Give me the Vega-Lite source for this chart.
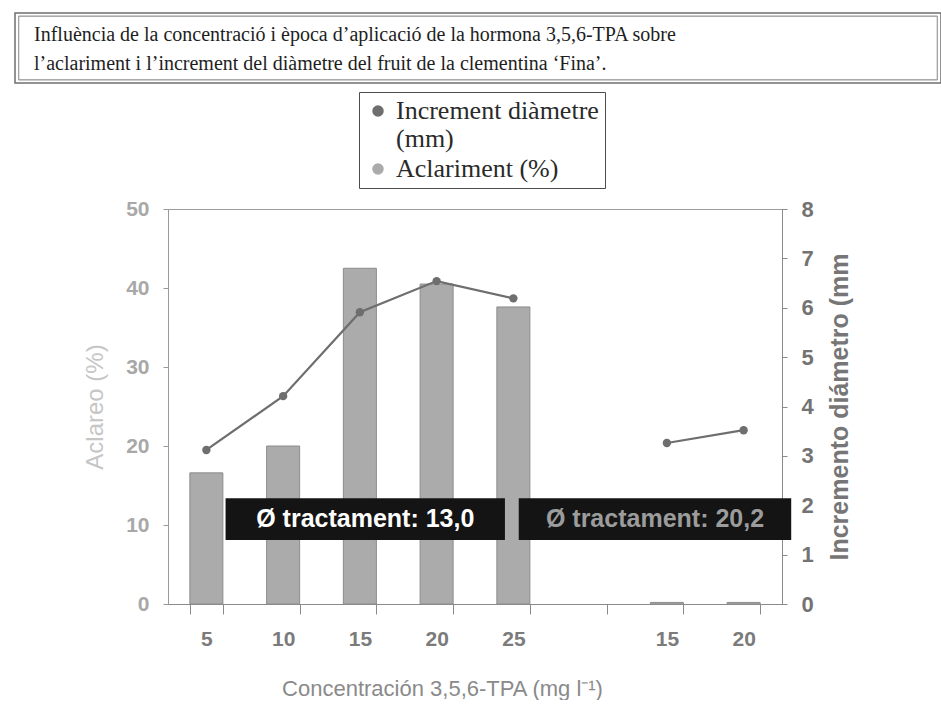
{
  "$schema": "https://vega.github.io/schema/vega-lite/v6.json",
  "padding": {"left": 14, "top": 12, "right": 0, "bottom": 0},
  "autosize": {"type": "pad"},
  "background": "white",
  "config": {"view": {"stroke": null}, "font": "Liberation Sans"},
  "bounds": "flush",
  "spacing": 126,
  "vconcat": [
    {
      "width": 926,
      "height": 70,
      "view": {"stroke": "#6f6f6f", "strokeWidth": 1.5},
      "data": {"values": [
        {"linea": 1, "texto": "Influència de la concentració i època d’aplicació de la hormona 3,5,6-TPA sobre"},
        {"linea": 2, "texto": "l’aclariment i l’increment del diàmetre del fruit de la clementina ‘Fina’."}
      ]},
      "layer": [
        {
          "mark": {"type": "rect", "fill": null, "stroke": "#a0a0a0", "strokeWidth": 1},
          "encoding": {
            "x": {"datum": 0, "type": "quantitative", "scale": {"domain": [-0.004, 1.004]}, "axis": null},
            "x2": {"datum": 1},
            "y": {"datum": 0, "type": "quantitative", "scale": {"domain": [-0.05, 1.05]}, "axis": null},
            "y2": {"datum": 1}
          }
        },
        {
          "mark": {"type": "text", "align": "left", "baseline": "alphabetic", "dx": 19, "font": "Liberation Serif", "fontSize": 20, "color": "#1e1e1e"},
          "encoding": {
            "x": {"datum": 0, "type": "quantitative", "scale": {"domain": [0, 1]}, "axis": null},
            "y": {"field": "linea", "type": "quantitative", "scale": {"domain": [0.0345, 2.448], "reverse": true}, "axis": null},
            "text": {"field": "texto"}
          }
        }
      ],
      "resolve": {"scale": {"x": "independent", "y": "independent"}}
    },
    {
      "bounds": "flush",
      "spacing": 0,
      "hconcat": [
        {
          "width": 153,
          "height": 395,
          "data": {"values": []},
          "mark": "point"
        },
        {
          "width": 614,
          "height": 395,
          "view": {"stroke": "#9c9c9c", "strokeWidth": 1},
          "layer": [
            {
              "data": {"values": [
                {"id": "I-5", "grupo": "I", "aclareo": 16.6, "diametro": 3.12},
                {"id": "I-10", "grupo": "I", "aclareo": 20.0, "diametro": 4.21},
                {"id": "I-15", "grupo": "I", "aclareo": 42.5, "diametro": 5.91},
                {"id": "I-20", "grupo": "I", "aclareo": 40.5, "diametro": 6.54},
                {"id": "I-25", "grupo": "I", "aclareo": 37.6, "diametro": 6.19},
                {"id": "II-15", "grupo": "II", "aclareo": 0.2, "diametro": 3.26},
                {"id": "II-20", "grupo": "II", "aclareo": 0.2, "diametro": 3.52}
              ]},
              "layer": [
                {
                  "mark": {"type": "bar", "stroke": "#8c8c8c", "strokeWidth": 1},
                  "encoding": {
                    "x": {
                      "field": "id", "type": "nominal", "sort": null,
                      "scale": {"domain": ["I-5", "I-10", "I-15", "I-20", "I-25", "sep", "II-15", "II-20"], "paddingInner": 0.57, "paddingOuter": 0.285},
                      "axis": {
                        "title": "Concentración 3,5,6-TPA (mg l⁻¹)",
                        "labelExpr": "indexof(datum.label, '-') >= 0 ? split(datum.label, '-')[1] : ''",
                        "labelAngle": 0,
                        "labelFontSize": 21,
                        "labelFontWeight": "bold",
                        "labelColor": "#7b7b7b",
                        "labelPadding": 14,
                        "tickBand": "extent",
                        "tickSize": 10,
                        "tickColor": "#8a8a8a",
                        "domainColor": "#8a8a8a",
                        "titleFontSize": 22,
                        "titleFontWeight": "normal",
                        "titleColor": "#8a8a8a",
                        "titleX": 274,
                        "titleY": 91,
                        "titleBaseline": "alphabetic"
                      }
                    },
                    "y": {
                      "field": "aclareo", "type": "quantitative",
                      "scale": {"domain": [0, 50]},
                      "axis": {
                        "title": "Aclareo (%)",
                        "values": [0, 10, 20, 30, 40, 50],
                        "grid": false,
                        "tickSize": 5,
                        "tickColor": "#9a9a9a",
                        "domainColor": "#9a9a9a",
                        "labelColor": "#a8a8a8",
                        "labelFontSize": 21,
                        "labelFontWeight": "bold",
                        "labelPadding": 14,
                        "titleColor": "#c6c6c6",
                        "titleFontSize": 24,
                        "titleFontWeight": "normal",
                        "titlePadding": 18
                      }
                    },
                    "color": {
                      "datum": "Aclariment (%)",
                      "type": "nominal",
                      "scale": {"domain": ["Increment diàmetre (mm)", "Aclariment (%)"], "range": ["#6e6e6e", "#ababab"]},
                      "legend": {
                        "orient": "none",
                        "legendX": 344,
                        "legendY": 79,
                        "title": null,
                        "direction": "vertical",
                        "strokeColor": "#4d4d4d",
                        "fillColor": "white",
                        "padding": 6,
                        "labelFont": "Liberation Serif",
                        "labelFontSize": 26,
                        "labelColor": "#2a2a2a",
                        "labelLimit": 400,
                        "rowPadding": 4,
                        "labelOffset": 5,
                        "labelExpr": "datum.label == 'Increment diàmetre (mm)' ? ['Increment diàmetre', '(mm)'] : datum.label",
                        "encode": {
                          "symbols": {
                            "fillOpacity": {"value": 1},
                            "strokeWidth": {"value": 0}
                          }
                        }
                      }
                    }
                  }
                },
                {
                  "mark": {"type": "line", "strokeWidth": 2.2, "point": {"filled": true, "size": 70}},
                  "encoding": {
                    "x": {"field": "id", "type": "nominal", "sort": null},
                    "y": {
                      "field": "diametro", "type": "quantitative",
                      "scale": {"domain": [0, 8]},
                      "axis": {
                        "orient": "right",
                        "title": "Incremento diámetro (mm",
                        "values": [0, 1, 2, 3, 4, 5, 6, 7, 8],
                        "grid": false,
                        "tickSize": 5,
                        "tickColor": "#8a8a8a",
                        "domainColor": "#8a8a8a",
                        "labelColor": "#737373",
                        "labelFontSize": 22,
                        "labelFontWeight": "bold",
                        "labelPadding": 14,
                        "titleColor": "#767676",
                        "titleFontSize": 25,
                        "titleFontWeight": "bold",
                        "titleAngle": 270,
                        "titleBaseline": "top",
                        "titlePadding": 14
                      }
                    },
                    "detail": {"field": "grupo"},
                    "color": {"datum": "Increment diàmetre (mm)", "type": "nominal"}
                  }
                }
              ],
              "resolve": {"scale": {"y": "independent"}}
            },
            {
              "data": {"values": [
                {"texto": "Ø tractament: 13,0", "tipo": "a", "desde": 0.75, "hasta": 4.39, "inferior": 8.1, "superior": 13.4},
                {"texto": "Ø tractament: 20,2", "tipo": "b", "desde": 4.57, "hasta": 8.12, "inferior": 8.1, "superior": 13.4}
              ]},
              "transform": [
                {"calculate": "(datum.desde + datum.hasta) / 2", "as": "centro"},
                {"calculate": "(datum.inferior + datum.superior) / 2", "as": "medio"}
              ],
              "layer": [
                {
                  "mark": {"type": "rect", "color": "#141414"},
                  "encoding": {
                    "x": {"field": "desde", "type": "quantitative", "scale": {"domain": [0, 8]}, "axis": null},
                    "x2": {"field": "hasta"},
                    "y": {"field": "inferior", "type": "quantitative", "scale": {"domain": [0, 50]}, "axis": null},
                    "y2": {"field": "superior"}
                  }
                },
                {
                  "mark": {"type": "text", "fontSize": 25, "fontWeight": "bold", "align": "center", "baseline": "middle"},
                  "encoding": {
                    "x": {"field": "centro", "type": "quantitative"},
                    "y": {"field": "medio", "type": "quantitative"},
                    "text": {"field": "texto"},
                    "color": {"condition": {"test": "datum.tipo == 'a'", "value": "#ffffff"}, "value": "#9c9c9c"}
                  }
                }
              ]
            }
          ],
          "resolve": {"scale": {"x": "independent", "y": "independent"}}
        }
      ]
    }
  ]
}
